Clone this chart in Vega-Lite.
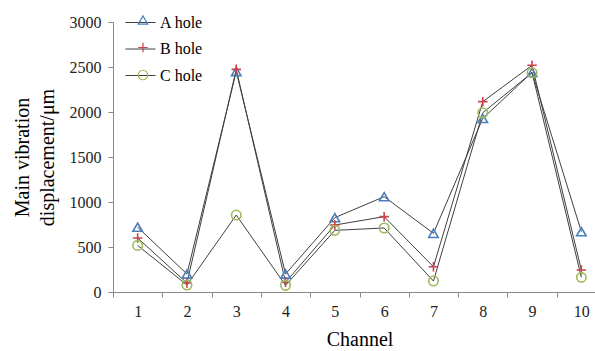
{
  "$schema": "https://vega.github.io/schema/vega-lite/v6.json",
  "width": 493,
  "height": 270,
  "autosize": {"type": "none"},
  "padding": {"left": 113, "top": 22, "right": 0, "bottom": 59},
  "background": "white",
  "config": {
    "view": {"stroke": null},
    "font": "Times New Roman, Liberation Serif, DejaVu Serif, serif",
    "style": {
      "guide-label": {"font": "Times New Roman, Liberation Serif, DejaVu Serif, serif"},
      "guide-title": {"font": "Times New Roman, Liberation Serif, DejaVu Serif, serif"}
    },
    "axis": {
      "grid": false,
      "domainColor": "#888888",
      "tickColor": "#888888",
      "tickSize": 5,
      "labelFont": "Times New Roman, Liberation Serif, DejaVu Serif, serif",
      "labelFontSize": 16,
      "labelColor": "#222222",
      "titleFont": "Times New Roman, Liberation Serif, DejaVu Serif, serif",
      "titleFontSize": 20,
      "titleFontWeight": "normal",
      "titleColor": "#000000"
    },
    "legend": {
      "labelFont": "Times New Roman, Liberation Serif, DejaVu Serif, serif"
    }
  },
  "data": {
    "values": [
      {"channel": 1, "series": "A hole", "value": 720},
      {"channel": 2, "series": "A hole", "value": 200},
      {"channel": 3, "series": "A hole", "value": 2450},
      {"channel": 4, "series": "A hole", "value": 200},
      {"channel": 5, "series": "A hole", "value": 826},
      {"channel": 6, "series": "A hole", "value": 1059},
      {"channel": 7, "series": "A hole", "value": 652},
      {"channel": 8, "series": "A hole", "value": 1929},
      {"channel": 9, "series": "A hole", "value": 2440},
      {"channel": 10, "series": "A hole", "value": 670},
      {"channel": 1, "series": "B hole", "value": 600},
      {"channel": 2, "series": "B hole", "value": 100},
      {"channel": 3, "series": "B hole", "value": 2474},
      {"channel": 4, "series": "B hole", "value": 108},
      {"channel": 5, "series": "B hole", "value": 744},
      {"channel": 6, "series": "B hole", "value": 837},
      {"channel": 7, "series": "B hole", "value": 281},
      {"channel": 8, "series": "B hole", "value": 2115},
      {"channel": 9, "series": "B hole", "value": 2519},
      {"channel": 10, "series": "B hole", "value": 244},
      {"channel": 1, "series": "C hole", "value": 518},
      {"channel": 2, "series": "C hole", "value": 78},
      {"channel": 3, "series": "C hole", "value": 855},
      {"channel": 4, "series": "C hole", "value": 74},
      {"channel": 5, "series": "C hole", "value": 685},
      {"channel": 6, "series": "C hole", "value": 711},
      {"channel": 7, "series": "C hole", "value": 122},
      {"channel": 8, "series": "C hole", "value": 1992},
      {"channel": 9, "series": "C hole", "value": 2437},
      {"channel": 10, "series": "C hole", "value": 163}
    ]
  },
  "encoding": {
    "x": {
      "field": "channel",
      "type": "ordinal",
      "bandPosition": 0.5,
      "scale": {"type": "band", "paddingInner": 0, "paddingOuter": 0},
      "axis": {
        "title": "Channel",
        "labelAngle": 0,
        "tickBand": "extent",
        "labelPadding": 6,
        "titlePadding": 10
      }
    },
    "y": {
      "field": "value",
      "type": "quantitative",
      "scale": {"domain": [0, 3000], "nice": false},
      "axis": {
        "values": [0, 500, 1000, 1500, 2000, 2500, 3000],
        "format": "d",
        "labelPadding": 7,
        "title": ["Main vibration", "displacement/μm"],
        "titleLineHeight": 25,
        "titleAngle": -90,
        "titleAlign": "center",
        "titleBaseline": "top",
        "titleX": -101,
        "titleY": 135
      }
    }
  },
  "layer": [
    {
      "mark": {"type": "line", "strokeWidth": 1},
      "encoding": {
        "color": {
          "field": "series",
          "type": "nominal",
          "scale": {"domain": ["A hole", "B hole", "C hole"], "range": ["#404040", "#404040", "#404040"]},
          "legend": {
            "title": null,
            "orient": "none",
            "legendX": 12,
            "legendY": -15,
            "symbolType": "stroke",
            "symbolSize": 900,
            "symbolStrokeWidth": 1,
            "labelFontSize": 16,
            "labelColor": "#000000",
            "labelOffset": 4,
            "rowPadding": 2.5
          }
        }
      }
    },
    {
      "mark": {"type": "point", "filled": false, "strokeWidth": 1.6, "size": 90, "opacity": 1},
      "encoding": {
        "shape": {
          "field": "series",
          "type": "nominal",
          "scale": {"range": ["triangle-up", "M-1,0H1M0,-1V1", "circle"]},
          "legend": {
            "title": null,
            "orient": "none",
            "legendX": 22,
            "legendY": -10,
            "symbolSize": 90,
            "symbolStrokeWidth": 1.2,
            "labelFontSize": 16,
            "labelExpr": "''",
            "rowPadding": 11.5
          }
        },
        "stroke": {
          "field": "series",
          "type": "nominal",
          "scale": {"range": ["#4A7EBB", "#C8414B", "#9BBB59"]},
          "legend": {
            "title": null,
            "orient": "none",
            "legendX": 22,
            "legendY": -10,
            "symbolSize": 90,
            "symbolStrokeWidth": 1.2,
            "labelFontSize": 16,
            "labelExpr": "''",
            "rowPadding": 11.5
          }
        }
      }
    }
  ]
}
